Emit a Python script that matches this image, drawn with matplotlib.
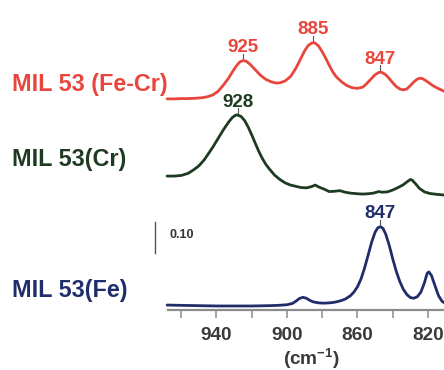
import numpy as np
import matplotlib
matplotlib.use("Agg")
import matplotlib.pyplot as plt

plt.rcParams["font.family"] = ["Liberation Sans", "DejaVu Sans"]
plt.rcParams["font.weight"] = "bold"
plt.rcParams["mathtext.fontset"] = "custom"
plt.rcParams["mathtext.rm"] = "Liberation Sans:bold"
plt.rcParams["mathtext.bf"] = "Liberation Sans:bold"

# ---- spectra: wavenumber (cm-1) and absorbance above each trace baseline ----
fecr_wavenumber = [968, 964, 960, 956, 952, 948, 945, 942, 939, 936, 933, 931, 929, 927,
                   925, 923, 921, 919, 917, 915, 912, 909, 906, 904, 901, 898, 895, 892,
                   890, 888, 886, 885, 884, 882, 880, 878, 876, 874, 872, 869, 866, 863,
                   860, 857, 855, 852, 850, 848, 847, 846, 844, 842, 840, 838, 836, 834,
                   832, 830, 828, 826, 824.5, 823, 821, 819, 817, 814, 811, 808]
fecr_absorbance = [0.000, 0.000, 0.001, 0.001, 0.002, 0.004, 0.007, 0.013, 0.025, 0.045,
                   0.068, 0.087, 0.104, 0.118, 0.124, 0.121, 0.112, 0.100, 0.088, 0.076,
                   0.063, 0.055, 0.051, 0.052, 0.058, 0.072, 0.098, 0.132, 0.155, 0.172,
                   0.180, 0.181, 0.180, 0.170, 0.152, 0.131, 0.108, 0.087, 0.071, 0.055,
                   0.043, 0.036, 0.034, 0.038, 0.048, 0.066, 0.078, 0.085, 0.086, 0.085,
                   0.078, 0.066, 0.052, 0.040, 0.032, 0.029, 0.032, 0.043, 0.055, 0.064,
                   0.067, 0.065, 0.058, 0.050, 0.042, 0.033, 0.025, 0.020]

cr_wavenumber = [968, 964, 960, 956, 953, 950, 947, 944, 942, 939, 936, 933, 931, 929,
                 928, 926, 924, 922, 920, 918, 916, 914, 912, 910, 907, 904, 901, 898,
                 895, 892, 889, 886, 884, 882, 879, 876, 873, 870, 867, 864, 860, 857,
                 854, 851, 848, 846, 843, 840, 837, 834, 832, 830, 829, 827, 825, 822,
                 819, 815, 811, 808]
cr_absorbance = [0.061, 0.061, 0.063, 0.070, 0.081, 0.094, 0.113, 0.138, 0.155, 0.183,
                 0.211, 0.236, 0.250, 0.258, 0.258, 0.253, 0.240, 0.219, 0.194, 0.167,
                 0.141, 0.118, 0.099, 0.084, 0.064, 0.050, 0.039, 0.032, 0.028, 0.024,
                 0.023, 0.027, 0.032, 0.026, 0.019, 0.011, 0.012, 0.014, 0.009, 0.006,
                 0.004, 0.003, 0.004, 0.006, 0.011, 0.009, 0.010, 0.016, 0.024, 0.033,
                 0.042, 0.050, 0.048, 0.036, 0.022, 0.010, 0.005, 0.002, 0.000, 0.000]

fe_wavenumber = [968, 960, 950, 940, 930, 920, 910, 905, 900, 897, 895, 893, 891, 889,
                 887, 885, 882, 879, 876, 873, 870, 867, 864, 862, 860, 858, 856, 854,
                 852, 850, 848.5, 847, 845.5, 844, 842, 840, 838, 836, 834, 832, 830,
                 828, 826, 824, 822, 820.5, 819.5, 818, 816, 814, 812, 810, 808]
fe_absorbance = [0.003, 0.002, 0.001, 0.000, 0.000, 0.000, 0.001, 0.002, 0.004, 0.008,
                 0.015, 0.024, 0.028, 0.025, 0.018, 0.013, 0.010, 0.009, 0.010, 0.012,
                 0.016, 0.022, 0.033, 0.045, 0.062, 0.087, 0.122, 0.163, 0.205, 0.238,
                 0.252, 0.256, 0.250, 0.232, 0.196, 0.152, 0.112, 0.079, 0.054, 0.037,
                 0.027, 0.025, 0.030, 0.045, 0.075, 0.105, 0.110, 0.098, 0.065, 0.033,
                 0.015, 0.008, 0.006]

sample_names = ["MIL 53 (Fe-Cr)", "MIL 53(Cr)", "MIL 53(Fe)"]
fecr_peaks = [925, 885, 847]
cr_peaks = [928]
fe_peaks = [847]

x_ticks = [940, 900, 860, 820]
scale_bar_value = 0.10

# ---- styling / layout ----
colors = ["#e8463c", "#1e3b22", "#1f2d6b"]
offsets = [0.681, 0.371, 0.013]
name_baselines_px = [91, 166, 297]

W, H = 444, 370
fig = plt.figure(figsize=(W / 100, H / 100), dpi=100)
ax = fig.add_axes([168 / W, (H - 310) / H, (456 - 168) / W, 310 / H])
ax.set_xlim(967.5, 804.1)
ax.set_ylim(0, 1.0)

series = [
    (fecr_wavenumber, fecr_absorbance, fecr_peaks),
    (cr_wavenumber, cr_absorbance, cr_peaks),
    (fe_wavenumber, fe_absorbance, fe_peaks),
]

for (wn, ab, peaks), color, off in zip(series, colors, offsets):
    wn = np.asarray(wn, float)
    ab = np.asarray(ab, float)
    ax.plot(wn, ab + off, color=color, lw=2.0, solid_capstyle="round",
            solid_joinstyle="round", clip_on=False)
    for p in peaks:
        top = np.interp(p, wn[::-1], ab[::-1]) + off
        ax.plot([p, p], [top + 0.007, top + 0.022], color="#555555", lw=0.8)
        ax.text(p, top + 0.027, f"{p}", color=color, fontsize=13.5,
                fontweight="bold", ha="center", va="baseline")

for name, color, yb in zip(sample_names, colors, name_baselines_px):
    fig.text(12 / W, (H - yb) / H, name, color=color, fontsize=16.8,
             fontweight="bold", ha="left", va="baseline")

# absorbance scale bar
bar_x = 975
bar_top = 0.284
ax.plot([bar_x, bar_x], [bar_top - scale_bar_value, bar_top], color="#555555",
        lw=1.0, clip_on=False)
ax.text(966.5, bar_top - scale_bar_value / 2 + 0.008, f"{scale_bar_value:.2f}",
        color="#333333", fontsize=9, fontweight="bold", ha="left", va="center")

# axes styling
for side in ["left", "right", "top"]:
    ax.spines[side].set_visible(False)
ax.spines["bottom"].set_color("#8c8c8c")
ax.spines["bottom"].set_linewidth(1.6)
ax.set_yticks([])
ax.set_xticks(x_ticks)
ax.set_xticks([960, 920, 880, 840], minor=True)
ax.tick_params(axis="x", which="both", direction="out", length=5.8, width=1.1,
               color="#8c8c8c", pad=6.5)
ax.tick_params(axis="x", which="major", labelsize=13.7, labelcolor="#3a3a3a")
for lab in ax.get_xticklabels():
    lab.set_fontweight("bold")
ax.set_xlabel(r"(cm$^{-1}$)", fontsize=13.7, fontweight="bold", color="#3a3a3a",
              labelpad=1.5)
ax.patch.set_alpha(0)

fig.savefig("out.png", dpi=100)
